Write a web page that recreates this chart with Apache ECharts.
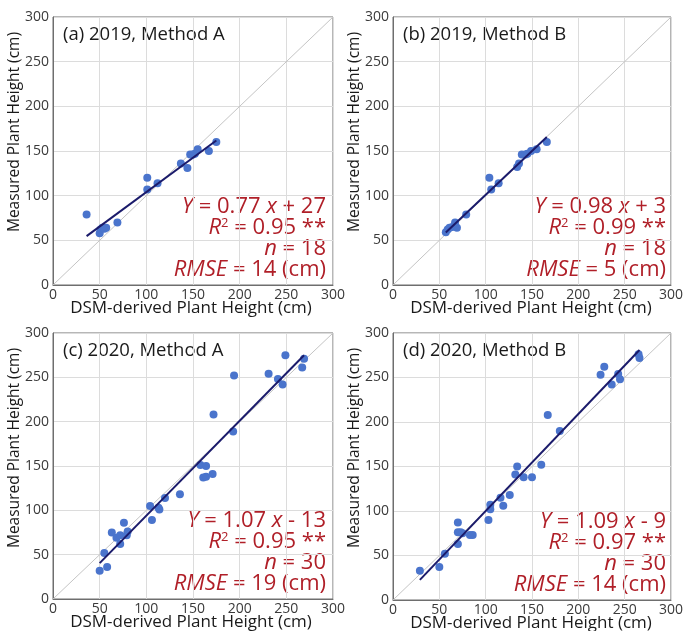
<!DOCTYPE html>
<html>
<head>
<meta charset="utf-8">
<script src="https://cdn.jsdelivr.net/npm/echarts@6/dist/echarts.min.js"></script>
<style>html,body{margin:0;padding:0;background:#fff}#c{width:686px;height:631px}</style>
</head>
<body>
<div id="c"></div>
<script>
// ---- data (cm) ----
const panelTitles = ['(a) 2019, Method A', '(b) 2019, Method B', '(c) 2020, Method A', '(d) 2020, Method B'];

const xA = [36, 50, 51, 53, 55, 57, 69, 101, 101, 112, 137, 144, 147, 150, 152, 155, 167, 175];
const yA = [79, 58, 62, 64, 63, 64, 70, 120, 107, 114, 136, 131, 146, 146, 147, 152, 150, 160];

const xB = [57, 59, 61, 64, 67, 69, 79, 104, 106, 114, 134, 136, 139, 143, 145, 149, 155, 166];
const yB = [59, 62, 64, 65, 70, 64, 79, 120, 107, 114, 132, 136, 146, 146, 147, 150, 152, 160];

const xC = [50, 58, 55, 63, 68, 72, 72, 76, 79, 80, 106, 104, 113, 114, 120, 136, 158, 164, 161, 164, 171, 172, 193, 194, 231, 241, 246, 249, 267, 269];
const yC = [32, 36, 52, 75, 69, 72, 62, 86, 72, 76, 89, 105, 103, 101, 114, 118, 151, 150, 137, 138, 141, 208, 189, 252, 254, 248, 242, 275, 261, 271];

const xD = [29, 50, 56, 70, 70, 70, 73, 75, 83, 86, 103, 105, 105, 116, 119, 126, 132, 134, 141, 150, 160, 167, 180, 224, 228, 236, 243, 245, 265, 266];
const yD = [33, 37, 52, 87, 76, 63, 76, 75, 73, 73, 90, 107, 102, 115, 106, 118, 141, 150, 138, 138, 152, 208, 190, 253, 262, 242, 254, 248, 276, 272];

// regression stats: slope, intercept, R2, n, RMSE
const slopes = [0.77, 0.98, 1.07, 1.09];
const intercepts = [27, 3, -13, -9];
const r2 = ['0.95', '0.99', '0.95', '0.97'];
const nObs = [18, 18, 30, 30];
const rmse = [14, 5, 19, 14];

const axisTicks = [0, 50, 100, 150, 200, 250, 300];
const xName = 'DSM-derived Plant Height (cm)';
const yName = 'Measured Plant Height (cm)';

// ---- layout ----
const grids = [
  {left: 53, top: 17, width: 280, height: 268},
  {left: 393, top: 17, width: 280, height: 268},
  {left: 53, top: 333, width: 280, height: 266},
  {left: 393, top: 333, width: 280, height: 267}
];
const FONT = '"Open Sans", "DejaVu Sans", sans-serif';
const RED = '#B01F28';
const xs = [xA, xB, xC, xD], ys = [yA, yB, yC, yD];

const option = {
  animation: false,
  backgroundColor: '#fff',
  textStyle: {fontFamily: FONT},
  grid: grids.map(g => Object.assign({show: true, borderColor: '#6e6e6e', borderWidth: 1, backgroundColor: 'transparent'}, g)),
  xAxis: grids.map((g, i) => ({
    gridIndex: i, type: 'value', min: axisTicks[0], max: axisTicks[axisTicks.length - 1], interval: 50,
    axisLine: {show: true, lineStyle: {color: '#6e6e6e', width: 1}},
    axisTick: {show: false},
    axisLabel: {color: '#3a3a3a', fontSize: 14, margin: 3, fontFamily: FONT},
    splitLine: {show: true, lineStyle: {color: '#dcdcdc', width: 1}}
  })),
  yAxis: grids.map((g, i) => ({
    gridIndex: i, type: 'value', min: axisTicks[0], max: axisTicks[axisTicks.length - 1], interval: 50,
    axisLine: {show: true, lineStyle: {color: '#6e6e6e', width: 1}},
    axisTick: {show: false},
    axisLabel: {color: '#3a3a3a', fontSize: 14, margin: 4, fontFamily: FONT},
    splitLine: {show: true, lineStyle: {color: '#dcdcdc', width: 1}}
  })),
  series: [],
  graphic: []
};

for (let i = 0; i < 4; i++) {
  const lo = axisTicks[0], hi = axisTicks[axisTicks.length - 1];
  option.series.push({
    type: 'line', xAxisIndex: i, yAxisIndex: i, data: [[lo, lo], [hi, hi]],
    symbol: 'none', lineStyle: {color: '#c4c4c4', width: 1}, z: 2, silent: true
  });
  const pts = xs[i].map((x, k) => [x, ys[i][k]]);
  option.series.push({
    type: 'scatter', xAxisIndex: i, yAxisIndex: i, data: pts,
    symbolSize: 8, itemStyle: {color: '#4A74CC', opacity: 1}, z: 3
  });
  const x0 = Math.min(...xs[i]), x1 = Math.max(...xs[i]);
  option.series.push({
    type: 'line', xAxisIndex: i, yAxisIndex: i,
    data: [[x0, slopes[i] * x0 + intercepts[i]], [x1, slopes[i] * x1 + intercepts[i]]],
    symbol: 'none', lineStyle: {color: '#1B1B6B', width: 2}, z: 4, silent: true
  });

  const g = grids[i];
  // panel title
  option.graphic.push({
    type: 'text', left: g.left + 10, top: g.top + 8,
    style: {text: panelTitles[i], font: '18.5px ' + FONT, fill: '#1a1a1a'}
  });
  // axis names
  option.graphic.push({
    type: 'text', x: g.left + g.width / 2 - 2, y: g.top + g.height + 23,
    style: {text: xName, font: '17px ' + FONT, fill: '#1a1a1a', align: 'center', verticalAlign: 'middle'}
  });
  option.graphic.push({
    type: 'text', x: g.left - 38, y: g.top + 115, rotation: Math.PI / 2,
    style: {text: yName, font: '15.5px ' + FONT, fill: '#1a1a1a', align: 'center', verticalAlign: 'middle'}
  });
  // regression annotation
  const sign = intercepts[i] < 0 ? ' - ' : ' + ';
  const lines = [
    '{i|Y} = ' + slopes[i].toFixed(2) + ' {i|x}' + sign + Math.abs(intercepts[i]),
    '{i|R}{s|2} = ' + r2[i] + ' **',
    '{i|n} = ' + nObs[i],
    '{i|RMSE} = ' + rmse[i] + ' (cm)'
  ];
  const rightX = g.left + g.width - 7;
  const baseY = g.top + g.height - 78;
  lines.forEach((t, k) => {
    option.graphic.push({
      type: 'text', x: rightX, y: baseY + k * 21,
      style: {
        text: t, fill: RED, font: '22px ' + FONT, align: 'right', verticalAlign: 'middle',
        rich: {
          i: {fontStyle: 'italic', fontSize: 22, fontFamily: FONT, fill: RED},
          s: {fontSize: 13, fontFamily: FONT, fill: RED, verticalAlign: 'top', padding: [0, 0, 9, 0]}
        }
      }
    });
  });
}

const chart = echarts.init(document.getElementById('c'), null, {renderer: 'canvas'});
chart.setOption(option);
</script>
</body>
</html>
